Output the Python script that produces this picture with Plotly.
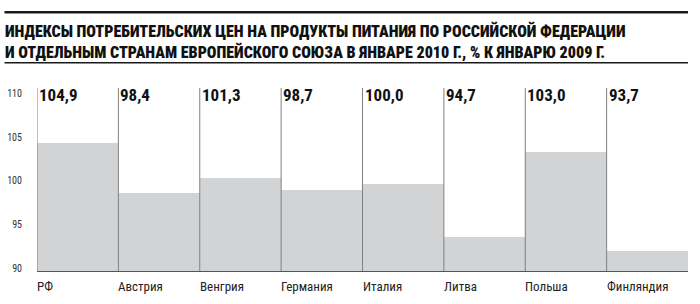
import plotly.graph_objects as go

# Data
categories = ["РФ", "Австрия", "Венгрия", "Германия", "Италия", "Литва", "Польша", "Финляндия"]
label_values = ["104,9", "98,4", "101,3", "98,7", "100,0", "94,7", "103,0", "93,7"]
bar_values = [104.3, 98.6, 100.3, 98.9, 99.6, 93.6, 103.3, 91.9]  # bar heights as drawn
y_ticks = [90, 95, 100, 105, 110]
title_lines = ["ИНДЕКСЫ ПОТРЕБИТЕЛЬСКИХ ЦЕН НА ПРОДУКТЫ ПИТАНИЯ ПО РОССИЙСКОЙ ФЕДЕРАЦИИ",
               "И ОТДЕЛЬНЫМ СТРАНАМ ЕВРОПЕЙСКОГО СОЮЗА В ЯНВАРЕ 2010 Г., % К ЯНВАРЮ 2009 Г."]

NARROW = "Roboto Condensed, Liberation Sans Narrow, DejaVu Sans Condensed, sans-serif"

W, H = 700, 304
L, R, T, B = 37, 12, 88, 33
pw = W - L - R
ph = H - T - B

def px_x(x):
    return (x - L) / pw

def px_y(y):
    return (H - B - y) / ph

fig = go.Figure()
fig.add_trace(go.Bar(
    x=list(range(len(categories))), y=bar_values,
    marker=dict(color="#d2d3d5", line=dict(width=0)),
    width=1.0, hoverinfo="skip"))

shapes = []
for i in range(len(categories)):
    shapes.append(dict(type="line", xref="x", yref="paper", x0=i - 0.5, x1=i - 0.5,
                       y0=0, y1=1, line=dict(color="#808080", width=1)))
# title rules
shapes.append(dict(type="line", xref="paper", yref="paper", x0=px_x(4.5), x1=px_x(688),
                   y0=px_y(12.3), y1=px_y(12.3), line=dict(color="#1a1a1a", width=2.5)))
shapes.append(dict(type="line", xref="paper", yref="paper", x0=px_x(4.5), x1=px_x(688),
                   y0=px_y(62.8), y1=px_y(62.8), line=dict(color="#1a1a1a", width=1.5)))

annotations = []
annotations.append(dict(xref="paper", yref="paper", x=px_x(3), y=px_y(19),
                        xanchor="left", yanchor="top", showarrow=False, align="left",
                        text=title_lines[0] + "<br>" + title_lines[1],
                        font=dict(family=NARROW, size=16, color="#111", weight=900)))
for i, (c, lv) in enumerate(zip(categories, label_values)):
    annotations.append(dict(xref="x", yref="paper", x=i - 0.5, y=px_y(95),
                            xanchor="left", yanchor="middle", xshift=0, showarrow=False,
                            text="<b>" + lv + "</b>",
                            font=dict(family=NARROW, size=17, color="#111")))
    annotations.append(dict(xref="x", yref="paper", x=i - 0.5, y=px_y(286.5),
                            xanchor="left", yanchor="middle", xshift=-2, showarrow=False,
                            text=c, font=dict(family=NARROW, size=13, color="#222")))

fig.update_layout(
    width=W, height=H, margin=dict(l=L, r=R, t=T, b=B, pad=0, autoexpand=False),
    paper_bgcolor="white", plot_bgcolor="white",
    showlegend=False, bargap=0,
    shapes=shapes, annotations=annotations,
    xaxis=dict(range=[-0.5, len(categories) - 0.5], showticklabels=False, ticks="",
               automargin=False,
               showgrid=False, zeroline=False, showline=True, linecolor="#555", linewidth=1),
    yaxis=dict(range=[89.66, 110.61], tickvals=y_ticks, ticktext=[str(v) for v in y_ticks],
               automargin=False,
               showgrid=False, zeroline=False, showline=False,
               ticks="outside", ticklen=12, tickcolor="rgba(0,0,0,0)",
               tickfont=dict(family=NARROW, size=10, color="#333")),
)

fig.write_html("out.html")
